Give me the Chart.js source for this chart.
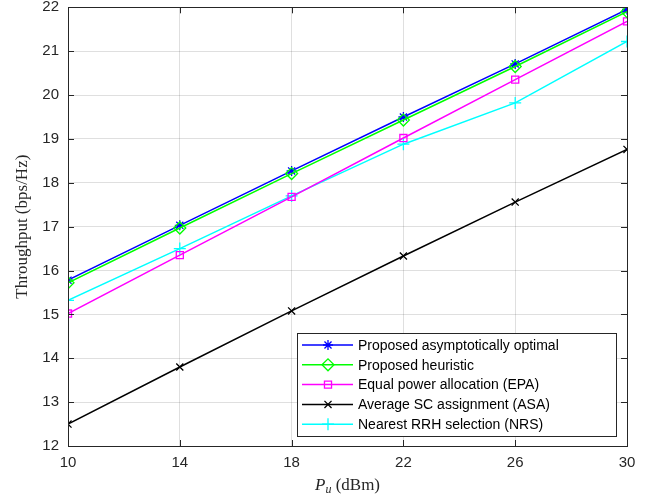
<!DOCTYPE html>
<html lang="en">
<head>
  <meta charset="UTF-8">
  <title>Throughput vs Pu</title>
  <script src="https://cdn.jsdelivr.net/npm/chart.js@4.4.0/dist/chart.umd.min.js"></script>
  <style>
    html, body { margin: 0; padding: 0; background: #fff; }
    #wrap { width: 657px; height: 501px; }
  </style>
</head>
<body>
  <div id="wrap"><canvas id="chart" width="657" height="501"></canvas></div>

  <script>
    // --- Datos ---
    const powerDbm = [10, 14, 18, 22, 26, 30];
    const optimal = [15.78, 17.03, 18.27, 19.50, 20.71, 21.95];
    const heuristic = [15.72, 16.97, 18.21, 19.43, 20.65, 21.90];
    const epa = [15.02, 16.35, 17.68, 19.02, 20.35, 21.68];
    const asa = [12.50, 13.80, 15.08, 16.33, 17.56, 18.76];
    const nrs = [15.32, 16.50, 17.70, 18.88, 19.82, 21.22];
    const seriesNames = [
      'Proposed asymptotically optimal',
      'Proposed heuristic',
      'Equal power allocation (EPA)',
      'Average SC assignment (ASA)',
      'Nearest RRH selection (NRS)'
    ];
    const xTicks = [10, 14, 18, 22, 26, 30];
    const yTicks = [12, 13, 14, 15, 16, 17, 18, 19, 20, 21, 22];

    const styles = [
      { color: '#0000ff', point: 'star', r: 5 },
      { color: '#00ff00', point: 'rectRot', r: 6 },
      { color: '#ff00ff', point: 'rect', r: 5 },
      { color: '#000000', point: 'crossRot', r: 5 },
      { color: '#00ffff', point: 'cross', r: 6 }
    ];
    const allData = [optimal, heuristic, epa, asa, nrs];

    // orden de dibujo: el azul queda debajo del verde como en la figura
    const datasets = allData.map((vals, i) => ({
      label: seriesNames[i],
      data: powerDbm.map((x, j) => ({ x: x, y: vals[j] })),
      borderColor: styles[i].color,
      backgroundColor: 'rgba(0,0,0,0)',
      pointStyle: styles[i].point,
      pointRadius: styles[i].r,
      pointBorderColor: styles[i].color,
      pointBackgroundColor: 'rgba(0,0,0,0)',
      pointBorderWidth: 1.3,
      borderWidth: 1.5,
      tension: 0,
      fill: false,
      order: i === 0 ? 2 : 1
    }));

    const axisColor = '#262626';

    // caja, marcas interiores, titulos y leyenda estilo MATLAB
    const matlabBox = {
      id: 'matlabBox',
      afterDatasetsDraw(chart) {
        const ctx = chart.ctx;
        const a = chart.chartArea;
        const xs = chart.scales.x, ys = chart.scales.y;
        ctx.save();
        ctx.strokeStyle = axisColor;
        ctx.lineWidth = 1;
        ctx.beginPath();
        xTicks.forEach(t => {
          const px = Math.round(xs.getPixelForValue(t)) + 0.5;
          ctx.moveTo(px, a.bottom); ctx.lineTo(px, a.bottom - 6);
          ctx.moveTo(px, a.top); ctx.lineTo(px, a.top + 6);
        });
        yTicks.forEach(t => {
          const py = Math.round(ys.getPixelForValue(t)) + 0.5;
          ctx.moveTo(a.left, py); ctx.lineTo(a.left + 6, py);
          ctx.moveTo(a.right, py); ctx.lineTo(a.right - 6, py);
        });
        ctx.stroke();
        ctx.strokeRect(Math.round(a.left) + 0.5, Math.round(a.top) + 0.5,
          Math.round(a.right - a.left), Math.round(a.bottom - a.top));

        // leyenda
        const lx = 297, ly = 333, lw = 319, lh = 103;
        ctx.fillStyle = '#fff';
        ctx.fillRect(lx, ly, lw, lh);
        ctx.strokeStyle = '#262626';
        ctx.strokeRect(lx + 0.5, ly + 0.5, lw, lh);
        ctx.font = '14px "Liberation Sans", Arial, sans-serif';
        ctx.textBaseline = 'middle';
        ctx.textAlign = 'left';
        seriesNames.forEach((name, i) => {
          const y = 345 + i * 19.8;
          ctx.strokeStyle = styles[i].color;
          ctx.lineWidth = 1.5;
          ctx.beginPath();
          ctx.moveTo(302, y); ctx.lineTo(353, y);
          ctx.stroke();
          ctx.lineWidth = 1.3;
          ctx.fillStyle = 'rgba(0,0,0,0)';
          Chart.helpers.drawPoint(ctx, {
            pointStyle: styles[i].point, radius: styles[i].r, rotation: 0, borderWidth: 1.3
          }, 328, y);
          ctx.fillStyle = '#000';
          ctx.fillText(name, 358, y + 1);
        });

        // titulo eje x: P_u (dBm)
        ctx.fillStyle = axisColor;
        ctx.textBaseline = 'alphabetic';
        const baseY = 490;
        ctx.font = 'italic 17px "Liberation Serif", "Times New Roman", serif';
        const wP = ctx.measureText('P').width;
        ctx.font = 'italic 12px "Liberation Serif", "Times New Roman", serif';
        const wU = ctx.measureText('u').width;
        ctx.font = '17px "Liberation Serif", "Times New Roman", serif';
        const wRest = ctx.measureText(' (dBm)').width;
        let sx = (a.left + a.right) / 2 - (wP + wU + wRest) / 2;
        ctx.font = 'italic 17px "Liberation Serif", "Times New Roman", serif';
        ctx.fillText('P', sx, baseY); sx += wP;
        ctx.font = 'italic 12px "Liberation Serif", "Times New Roman", serif';
        ctx.fillText('u', sx, baseY + 3); sx += wU;
        ctx.font = '17px "Liberation Serif", "Times New Roman", serif';
        ctx.fillText(' (dBm)', sx, baseY);

        // titulo eje y
        ctx.font = '17px "Liberation Serif", "Times New Roman", serif';
        ctx.translate(23, (a.top + a.bottom) / 2);
        ctx.rotate(-Math.PI / 2);
        ctx.textAlign = 'center';
        ctx.textBaseline = 'middle';
        ctx.fillText('Throughput (bps/Hz)', 0, 0);
        ctx.restore();
      }
    };

    function initChart() {
      const ctx = document.getElementById('chart').getContext('2d');
      new Chart(ctx, {
        type: 'line',
        data: { datasets: datasets },
        options: {
          responsive: false,
          animation: false,
          layout: { padding: { left: 0, right: 30, top: 6, bottom: 0 } },
          plugins: { legend: { display: false }, tooltip: { enabled: false } },
          scales: {
            x: {
              type: 'linear',
              min: 10, max: 30,
              afterBuildTicks: s => { s.ticks = xTicks.map(v => ({ value: v })); },
              afterFit: s => { s.height = 55; s.paddingLeft = 0; s.paddingRight = 0; },
              grid: { color: 'rgba(38,38,38,0.15)', drawTicks: false },
              border: { display: false },
              ticks: {
                color: axisColor, padding: 8,
                font: { family: '"Liberation Sans", Arial, sans-serif', size: 15 }
              }
            },
            y: {
              min: 12, max: 22,
              afterBuildTicks: s => { s.ticks = yTicks.map(v => ({ value: v })); },
              afterFit: s => { s.width = 68; s.paddingTop = 0; s.paddingBottom = 0; },
              grid: { color: 'rgba(38,38,38,0.15)', drawTicks: false },
              border: { display: false },
              ticks: {
                color: axisColor, padding: 9,
                font: { family: '"Liberation Sans", Arial, sans-serif', size: 15 }
              }
            }
          }
        },
        plugins: [matlabBox]
      });
    }

    initChart();
  </script>
</body>
</html>
